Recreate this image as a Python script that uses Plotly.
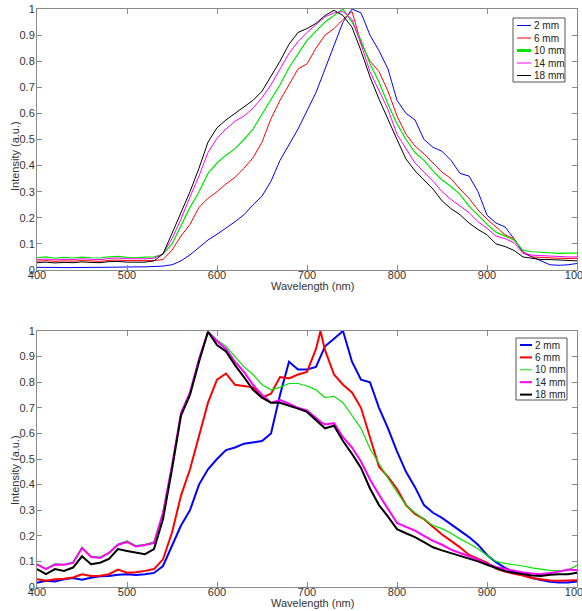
import plotly.graph_objects as go

# ---------------- data ----------------
wl_top = list(range(400, 1001, 10))

top_2mm = [0.010, 0.011, 0.010, 0.009, 0.010, 0.011, 0.010, 0.010, 0.011, 0.012, 0.011, 0.012, 0.012,
           0.013, 0.015, 0.020, 0.035, 0.058, 0.088, 0.115, 0.137, 0.160, 0.185, 0.212, 0.250, 0.283,
           0.340, 0.420, 0.480, 0.540, 0.610, 0.680, 0.770, 0.860, 0.950, 1.000, 0.985, 0.900, 0.840,
           0.770, 0.650, 0.600, 0.575, 0.500, 0.470, 0.455, 0.420, 0.370, 0.360, 0.300, 0.210, 0.180,
           0.165, 0.120, 0.065, 0.050, 0.035, 0.020, 0.018, 0.020, 0.025]
top_6mm = [0.034, 0.036, 0.033, 0.035, 0.034, 0.036, 0.035, 0.033, 0.037, 0.038, 0.036, 0.035, 0.036,
           0.036, 0.040, 0.076, 0.130, 0.175, 0.240, 0.275, 0.300, 0.330, 0.355, 0.390, 0.430, 0.490,
           0.580, 0.650, 0.710, 0.770, 0.790, 0.850, 0.900, 0.925, 0.960, 0.990, 0.870, 0.800, 0.760,
           0.685, 0.590, 0.520, 0.475, 0.445, 0.410, 0.375, 0.350, 0.310, 0.275, 0.230, 0.195, 0.165,
           0.135, 0.120, 0.070, 0.050, 0.048, 0.045, 0.045, 0.044, 0.045]
top_10mm = [0.047, 0.050, 0.045, 0.048, 0.046, 0.049, 0.047, 0.046, 0.050, 0.052, 0.048, 0.047, 0.049,
            0.050, 0.060, 0.100, 0.170, 0.240, 0.300, 0.370, 0.410, 0.440, 0.465, 0.500, 0.540, 0.595,
            0.650, 0.710, 0.775, 0.825, 0.880, 0.915, 0.950, 0.975, 1.000, 0.950, 0.880, 0.790, 0.720,
            0.635, 0.560, 0.500, 0.450, 0.420, 0.380, 0.345, 0.320, 0.290, 0.245, 0.210, 0.175, 0.145,
            0.130, 0.115, 0.075, 0.070, 0.068, 0.065, 0.064, 0.065, 0.065]
top_14mm = [0.040, 0.042, 0.039, 0.041, 0.040, 0.043, 0.041, 0.040, 0.044, 0.046, 0.043, 0.042, 0.043,
            0.045, 0.062, 0.120, 0.195, 0.280, 0.360, 0.450, 0.505, 0.540, 0.570, 0.590, 0.620, 0.660,
            0.710, 0.770, 0.830, 0.875, 0.910, 0.940, 0.970, 0.985, 0.990, 0.960, 0.865, 0.760, 0.685,
            0.615, 0.520, 0.465, 0.410, 0.375, 0.340, 0.300, 0.270, 0.245, 0.220, 0.185, 0.160, 0.130,
            0.120, 0.105, 0.065, 0.057, 0.055, 0.052, 0.050, 0.050, 0.050]
top_18mm = [0.028, 0.030, 0.027, 0.029, 0.028, 0.031, 0.029, 0.028, 0.032, 0.033, 0.030, 0.029, 0.030,
            0.035, 0.062, 0.140, 0.220, 0.300, 0.390, 0.490, 0.545, 0.575, 0.600, 0.625, 0.650, 0.685,
            0.740, 0.800, 0.865, 0.910, 0.925, 0.945, 0.975, 0.995, 0.975, 0.930, 0.840, 0.740, 0.655,
            0.575, 0.500, 0.425, 0.380, 0.345, 0.310, 0.265, 0.235, 0.212, 0.180, 0.155, 0.135, 0.100,
            0.090, 0.075, 0.050, 0.045, 0.040, 0.040, 0.038, 0.035, 0.035]

wl_bot = list(range(400, 711, 10)) + [715] + list(range(720, 1001, 10))

bot_2mm = [0.017, 0.024, 0.022, 0.030, 0.035, 0.028, 0.036, 0.042, 0.043, 0.048, 0.050, 0.047, 0.050,
           0.055, 0.082, 0.160, 0.240, 0.300, 0.400, 0.460, 0.500, 0.535, 0.545, 0.560, 0.566, 0.570,
           0.600, 0.750, 0.880, 0.850, 0.850, 0.860, 0.900, 0.940, 0.970, 1.000, 0.880, 0.810, 0.800,
           0.700, 0.620, 0.530, 0.450, 0.390, 0.320, 0.290, 0.270, 0.245, 0.220, 0.195, 0.165, 0.125,
           0.097, 0.075, 0.058, 0.045, 0.035, 0.027, 0.020, 0.018, 0.018, 0.022]
bot_6mm = [0.030, 0.024, 0.030, 0.032, 0.037, 0.050, 0.043, 0.044, 0.050, 0.068, 0.056, 0.058, 0.063,
           0.070, 0.108, 0.213, 0.357, 0.460, 0.590, 0.720, 0.810, 0.834, 0.790, 0.785, 0.780, 0.740,
           0.755, 0.820, 0.815, 0.830, 0.840, 0.930, 1.000, 0.925, 0.830, 0.790, 0.760, 0.700, 0.580,
           0.470, 0.430, 0.383, 0.320, 0.285, 0.265, 0.235, 0.205, 0.180, 0.155, 0.125, 0.110, 0.095,
           0.072, 0.060, 0.052, 0.045, 0.035, 0.030, 0.025, 0.024, 0.024, 0.026]
bot_10mm = [0.090, 0.072, 0.090, 0.088, 0.097, 0.155, 0.120, 0.117, 0.135, 0.168, 0.180, 0.162, 0.167,
            0.176, 0.290, 0.475, 0.677, 0.760, 0.890, 0.997, 0.965, 0.940, 0.900, 0.860, 0.830, 0.790,
            0.770, 0.780, 0.795, 0.795, 0.785, 0.770, 0.755, 0.740, 0.745, 0.720, 0.670, 0.620, 0.540,
            0.480, 0.425, 0.370, 0.320, 0.290, 0.265, 0.240, 0.228, 0.210, 0.188, 0.170, 0.148, 0.125,
            0.100, 0.092, 0.088, 0.082, 0.075, 0.070, 0.065, 0.063, 0.065, 0.085]
bot_14mm = [0.088, 0.070, 0.088, 0.087, 0.094, 0.152, 0.118, 0.113, 0.133, 0.165, 0.176, 0.158, 0.164,
            0.172, 0.290, 0.475, 0.680, 0.760, 0.890, 0.997, 0.960, 0.930, 0.880, 0.840, 0.790, 0.750,
            0.720, 0.730, 0.716, 0.700, 0.690, 0.660, 0.645, 0.635, 0.640, 0.585, 0.545, 0.490, 0.420,
            0.360, 0.305, 0.250, 0.235, 0.220, 0.200, 0.180, 0.165, 0.146, 0.133, 0.120, 0.107, 0.090,
            0.078, 0.070, 0.063, 0.057, 0.053, 0.050, 0.055, 0.060, 0.068, 0.065]
bot_18mm = [0.070, 0.050, 0.070, 0.063, 0.076, 0.120, 0.089, 0.095, 0.110, 0.148, 0.141, 0.135, 0.128,
            0.148, 0.265, 0.460, 0.670, 0.750, 0.880, 0.997, 0.945, 0.920, 0.867, 0.820, 0.770, 0.740,
            0.720, 0.720, 0.710, 0.697, 0.684, 0.650, 0.635, 0.620, 0.630, 0.570, 0.520, 0.465, 0.385,
            0.320, 0.275, 0.226, 0.210, 0.195, 0.175, 0.155, 0.143, 0.133, 0.120, 0.110, 0.100, 0.087,
            0.075, 0.062, 0.056, 0.050, 0.045, 0.043, 0.048, 0.050, 0.050, 0.056]

series_names = ["2 mm", "6 mm", "10 mm", "14 mm", "18 mm"]
colors = ["#0000ff", "#ff0000", "#00e600", "#ff00ff", "#000000"]
top_widths = [1, 1, 1.2, 1, 1]
bot_widths = [2, 2, 1.2, 2, 2]
top_key_widths = [1, 1, 3, 1, 1]
bot_key_widths = [2, 2, 1, 2, 2]

x_ticks = [400, 500, 600, 700, 800, 900, 1000]
x_title = "Wavelength (nm)"
y_title = "Intensity (a.u.)"

# ---------------- figure ----------------
W, H = 582, 611
fig = go.Figure()

top_series = [top_2mm, top_6mm, top_10mm, top_14mm, top_18mm]
bot_series = [bot_2mm, bot_6mm, bot_10mm, bot_14mm, bot_18mm]

for name, ys, c, w in zip(series_names, top_series, colors, top_widths):
    fig.add_trace(go.Scatter(x=wl_top, y=ys, mode="lines", name=name,
                             line=dict(color=c, width=w), showlegend=False,
                             xaxis="x", yaxis="y"))
for name, ys, c, w in zip(series_names, bot_series, colors, bot_widths):
    fig.add_trace(go.Scatter(x=wl_bot, y=ys, mode="lines", name=name,
                             line=dict(color=c, width=w), showlegend=False,
                             xaxis="x2", yaxis="y2"))

font_family = "Liberation Sans, Arial, sans-serif"
tick_font = dict(family=font_family, size=11, color="#333333")
title_font = dict(family=font_family, size=11, color="#333333")
key_font = dict(family=font_family, size=10, color="#222222")
line_col = "#8a8a8a"

def xax(domain, anchor):
    return dict(domain=domain, anchor=anchor, range=[400, 1000],
                tickvals=x_ticks, ticks="inside", ticklen=5, tickcolor=line_col,
                showline=True, linecolor=line_col, linewidth=1, mirror="ticks",
                showgrid=False, zeroline=False, tickfont=tick_font,
                ticklabeloverflow="allow", ticklabelstandoff=-5,
                automargin=False)

def yax(domain, anchor):
    return dict(domain=domain, anchor=anchor, range=[0, 1],
                dtick=0.1, tick0=0, ticks="inside", ticklen=5, tickcolor=line_col,
                showline=True, linecolor=line_col, linewidth=1, mirror="ticks",
                showgrid=False, zeroline=False, tickfont=tick_font,
                ticklabeloverflow="allow", ticklabelstandoff=-1,
                automargin=False)

def px_x(p):
    return p / W

def px_y(p):
    return 1 - p / H

x_dom = [px_x(37), px_x(577)]
top_dom = [px_y(270), px_y(9)]
bot_dom = [px_y(587), px_y(331)]

ann_common = dict(xref="paper", yref="paper", showarrow=False, font=title_font)
annotations = [
    dict(text=x_title, x=px_x(312), y=px_y(286), xanchor="center", yanchor="middle", **ann_common),
    dict(text=x_title, x=px_x(312), y=px_y(603), xanchor="center", yanchor="middle", **ann_common),
    dict(text=y_title, x=px_x(15), y=px_y(156), xanchor="center", yanchor="middle", textangle=-90,
         **ann_common),
    dict(text=y_title, x=px_x(15), y=px_y(470), xanchor="center", yanchor="middle", textangle=-90,
         **ann_common),
]
shapes = []

# legend boxes (MATLAB-style compact keys)
legend_specs = [
    dict(box=(513, 565, 18, 82), first=25.5, step=12.5, key=(517, 531), text=532, widths=top_key_widths),
    dict(box=(516, 567, 338, 400), first=345, step=12.4, key=(520, 532), text=533, widths=bot_key_widths),
]
for spec in legend_specs:
    bx0, bx1, by0, by1 = spec["box"]
    shapes.append(dict(type="rect", xref="paper", yref="paper", layer="above",
                       x0=px_x(bx0), x1=px_x(bx1), y0=px_y(by1), y1=px_y(by0),
                       line=dict(color="#555555", width=1), fillcolor="white"))
    for i, (name, c, w) in enumerate(zip(series_names, colors, spec["widths"])):
        yy = spec["first"] + i * spec["step"]
        shapes.append(dict(type="line", xref="paper", yref="paper", layer="above",
                           x0=px_x(spec["key"][0]), x1=px_x(spec["key"][1]),
                           y0=px_y(yy), y1=px_y(yy), line=dict(color=c, width=w)))
        annotations.append(dict(text=name, x=px_x(spec["text"]), y=px_y(yy), xref="paper", yref="paper",
                                xanchor="left", yanchor="middle", showarrow=False, font=key_font))

fig.update_layout(
    width=W, height=H,
    margin=dict(l=0, r=0, t=0, b=0),
    paper_bgcolor="white", plot_bgcolor="white",
    xaxis=xax(x_dom, "y"),
    yaxis=yax(top_dom, "x"),
    xaxis2=xax(x_dom, "y2"),
    yaxis2=yax(bot_dom, "x2"),
    annotations=annotations,
    shapes=shapes,
    showlegend=False,
)

fig.write_html("out.html",
               config={"displayModeBar": False},
               post_script="document.body.style.margin='0';document.body.style.overflow='hidden';")
